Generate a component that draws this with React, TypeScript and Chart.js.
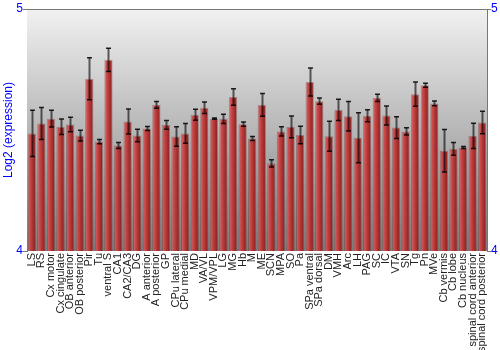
import React, { useEffect, useRef } from "react";
import { Chart, registerables } from "chart.js";

Chart.register(...registerables);

const categories = [
  "LS", "RS", "Cx motor", "Cx cingulate", "OB anterior", "OB posterior", "Pir", "Tu",
  "ventral S", "CA1", "CA2/CA3", "DG", "A anterior", "A posterior", "GP", "CPu lateral",
  "CPu medial", "MD", "VA/VL", "VPM/VPL", "LG", "MG", "Hb", "M", "ME", "SCN", "MPA", "SO",
  "Pa", "SPa ventral", "SPa dorsal", "DM", "VMH", "Arc", "LH", "PAG", "SC", "IC", "VTA",
  "SN", "Tg", "Pn", "MVe", "Cb vermis", "Cb lobe", "Cb nucleus", "spinal cord anterior",
  "spinal cord posterior",
];

const values = [
  4.486, 4.527, 4.547, 4.513, 4.523, 4.477, 4.712, 4.452,
  4.790, 4.436, 4.535, 4.477, 4.506, 4.604, 4.521, 4.473,
  4.486, 4.563, 4.592, 4.547, 4.546, 4.636, 4.524, 4.465, 4.604, 4.362, 4.494, 4.513,
  4.479, 4.698, 4.619, 4.474, 4.583, 4.557, 4.468, 4.559, 4.633, 4.560, 4.510,
  4.494, 4.648, 4.685, 4.610, 4.414, 4.422, 4.428, 4.476,
  4.531,
];

const errors = [
  0.096, 0.066, 0.035, 0.032, 0.030, 0.022, 0.087, 0.009,
  0.048, 0.012, 0.052, 0.026, 0.008, 0.014, 0.018, 0.040,
  0.041, 0.023, 0.024, 0.003, 0.019, 0.034, 0.009, 0.008, 0.047, 0.015, 0.019, 0.045,
  0.036, 0.058, 0.013, 0.062, 0.044, 0.061, 0.103, 0.025, 0.015, 0.039, 0.045,
  0.015, 0.050, 0.008, 0.010, 0.088, 0.026, 0.004, 0.052,
  0.046,
];

const yTicks = [4, 5];
const yMin = 4;
const yMax = 5;

const BAR_PCT = 0.87;

const bgPlugin = {
  id: "bgGradient",
  beforeDatasetsDraw(chart: any) {
    const { ctx, chartArea } = chart;
    const g = ctx.createLinearGradient(0, chartArea.top, 0, chartArea.bottom);
    g.addColorStop(0, "#f1f1f1");
    g.addColorStop(1, "#7c7c7c");
    ctx.save();
    ctx.fillStyle = g;
    ctx.fillRect(chartArea.left, chartArea.top, chartArea.right - chartArea.left, chartArea.bottom - chartArea.top);
    ctx.restore();
  },
  afterDraw(chart: any) {
    const { ctx, chartArea } = chart;
    ctx.save();
    ctx.strokeStyle = "#777777";
    ctx.lineWidth = 1;
    ctx.beginPath();
    ctx.moveTo(chartArea.left, Math.round(chartArea.top) + 0.5);
    ctx.lineTo(chartArea.right, Math.round(chartArea.top) + 0.5);
    ctx.stroke();
    ctx.restore();
  },
};

const errorBarPlugin = {
  id: "errorBars",
  afterDatasetsDraw(chart: any) {
    const { ctx } = chart;
    const xs = chart.scales.x;
    const ys = chart.scales.y;
    ctx.save();
    for (let i = 0; i < values.length; i++) {
      const x = Math.round(xs.getPixelForValue(i)) + 0.5;
      const yt = ys.getPixelForValue(values[i] + errors[i]);
      const yb = ys.getPixelForValue(values[i] - errors[i]);
      ctx.strokeStyle = "rgba(0,0,0,0.6)";
      ctx.lineWidth = 2;
      ctx.beginPath();
      ctx.moveTo(x, yt);
      ctx.lineTo(x, yb);
      ctx.stroke();
      ctx.strokeStyle = "rgba(0,0,0,0.85)";
      ctx.lineWidth = 1.5;
      ctx.beginPath();
      ctx.moveTo(x - 2.5, yt);
      ctx.lineTo(x + 2.5, yt);
      ctx.moveTo(x - 2.5, yb);
      ctx.lineTo(x + 2.5, yb);
      ctx.stroke();
    }
    ctx.restore();
  },
};

function barFill(c: any) {
  const chart = c.chart;
  const xs = chart.scales && chart.scales.x;
  if (!xs || c.type !== "data" || !chart.chartArea) return "#b83a3c";
  const cx = xs.getPixelForValue(c.dataIndex);
  const w = ((xs.right - xs.left) / categories.length) * BAR_PCT;
  const g = chart.ctx.createLinearGradient(cx - w / 2, 0, cx + w / 2, 0);
  g.addColorStop(0, "#c04848");
  g.addColorStop(0.15, "#d05a5a");
  g.addColorStop(0.45, "#bc3c3c");
  g.addColorStop(0.85, "#942424");
  g.addColorStop(1, "#7a1616");
  return g;
}

export default function App() {
  const ref = useRef<HTMLCanvasElement>(null);
  useEffect(() => {
    document.body.style.margin = "0";
    Chart.defaults.font.family = "'Liberation Sans', Arial, sans-serif";
    const chart = new Chart(ref.current as HTMLCanvasElement, {
      type: "bar",
      data: {
        labels: categories,
        datasets: [
          {
            data: values,
            yAxisID: "y",
            backgroundColor: barFill as any,
            borderColor: "rgba(120,20,20,0.35)",
            borderWidth: 1,
            barPercentage: BAR_PCT,
            categoryPercentage: 1,
          },
        ],
      },
      options: {
        responsive: false,
        animation: false,
        devicePixelRatio: 1,
        layout: { padding: { top: 9, left: 0, right: 0, bottom: 0 } },
        plugins: { legend: { display: false }, tooltip: { enabled: false } },
        scales: {
          x: {
            offset: true,
            grid: { display: false, drawTicks: false },
            border: { display: false },
            ticks: {
              autoSkip: false,
              maxRotation: 90,
              minRotation: 90,
              padding: 2,
              color: "#222222",
              font: { size: 11 },
            },
            afterFit: (s: any) => {
              s.height = 99;
            },
          },
          y: {
            position: "left",
            min: yMin,
            max: yMax,
            afterBuildTicks: (s: any) => {
              s.ticks = yTicks.map((v) => ({ value: v }));
            },
            grid: { drawOnChartArea: false, drawTicks: true, tickLength: 4, color: "#777777" },
            border: { color: "#777777" },
            ticks: { color: "#0000ff", padding: 0, font: { size: 12 } },
            title: {
              display: true,
              text: "Log2 (expression)",
              color: "#0000ff",
              font: { size: 12 },
              padding: { top: 1, bottom: 0 },
            },
            afterFit: (s: any) => {
              s.width = 27;
            },
          },
          y2: {
            position: "right",
            min: yMin,
            max: yMax,
            afterBuildTicks: (s: any) => {
              s.ticks = yTicks.map((v) => ({ value: v }));
            },
            grid: { drawOnChartArea: false, drawTicks: true, tickLength: 4, color: "#777777" },
            border: { color: "#777777" },
            ticks: { color: "#0000ff", padding: 0, font: { size: 12 } },
            afterFit: (s: any) => {
              s.width = 13;
            },
          },
        },
      },
      plugins: [bgPlugin, errorBarPlugin],
    } as any);
    return () => chart.destroy();
  }, []);
  return <canvas ref={ref} width={500} height={350} style={{ display: "block" }} />;
}
